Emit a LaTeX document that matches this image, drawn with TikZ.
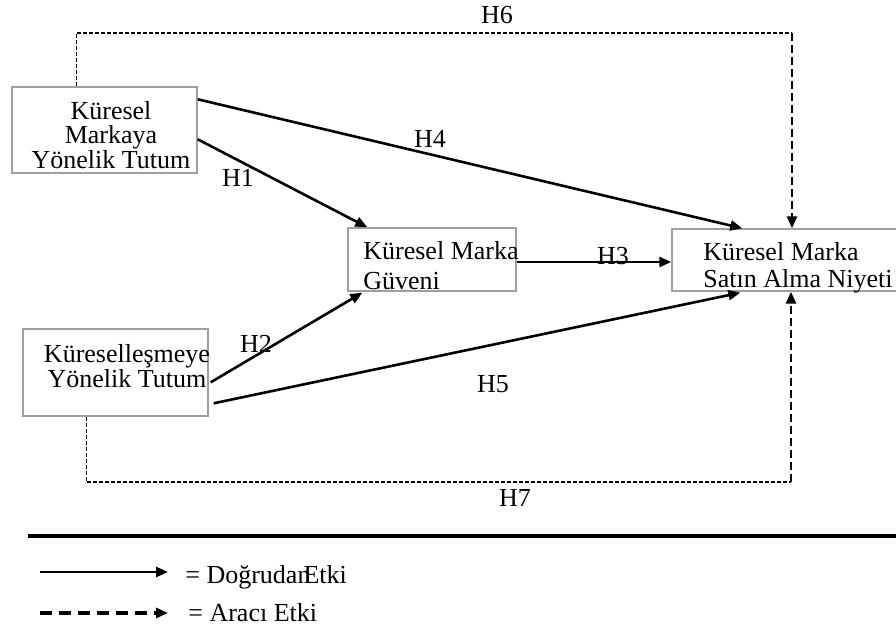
\documentclass[tikz,border=0pt]{standalone}
\usepackage{fontspec}
\setmainfont{Liberation Serif}
\usetikzlibrary{arrows.meta,calc}

\begin{document}
\begin{tikzpicture}[x=0.5pt, y=-0.5pt,
  every node/.style={font=\fontsize{13}{12.25}\selectfont, inner sep=0pt},
  kutu/.style={draw=gray!75, line width=0.7pt, rectangle},
  yol/.style={line width=1.3pt, -{Triangle[length=6pt,width=5pt]}},
  ince/.style={line width=0.7pt, dash pattern=on 2pt off 1pt},
  kesik/.style={line width=1.4pt, dash pattern=on 4pt off 2pt, -{Triangle[length=6pt,width=5pt]}},
  hip/.style={anchor=base}]
  \clip (0,0) rectangle (896,630);
  % kutular
  \node[kutu, minimum width=92.5pt, minimum height=43pt] (kmyt) at (104.5,130) {};
  \node[kutu, minimum width=84pt, minimum height=31.5pt] (kmg) at (432,259.5) {};
  \node[kutu, minimum width=119pt, minimum height=31pt] (ksan) at (791,260) {};
  \node[kutu, minimum width=92.5pt, minimum height=43.5pt] (kyt) at (115.5,372.5) {};
  \node[align=center] (kmyt-t) at (111,135) {Küresel\\Markaya\\Yönelik Tutum};
  \node[align=left, anchor=west, font=\fontsize{13}{15}\selectfont] (kmg-t) at (363,266) {Küresel Marka\\Güveni};
  \node[align=left, anchor=west, font=\fontsize{13}{13.5}\selectfont] (ksan-t) at (703,267.5) {Küresel Marka\\Satın Alma Niyeti};
  \node[align=center] (kyt-t) at (127,366) {Küreselleşmeye\\Yönelik Tutum};
  % dogrudan etkiler
  \draw[yol] ($(kmyt.north east)+(0,140-87)$) -- ($(kmg.north west)+(20,0)$);
  \draw[yol] ($(kmyt.north east)+(0,13)$) -- ($(ksan.north west)+(71,0)$);
  \draw[yol] (kmg.east |- 0,262) -- (ksan.west |- 0,262);
  \draw[yol] ($(kyt.north east)+(2,54)$) -- ($(kmg.south west)+(15,1)$);
  \draw[yol] ($(kyt.north east)+(5,75)$) -- ($(ksan.south west)+(69,1)$);
  % araci etkiler
  \coordinate (h6k) at (792,33);
  \coordinate (h7k) at (791,482);
  \draw[ince] ($(kmyt.north west)+(65,0)$) |- (h6k);
  \draw[kesik] (h6k) -- (h6k |- ksan.north);
  \draw[ince] ($(kyt.south west)+(64,0)$) |- (h7k);
  \draw[kesik] (h7k) -- (h7k |- ksan.south);
  % hipotezler
  \node[hip] (h1) at (238,187) {H1};
  \node[hip] (h2) at (256,353) {H2};
  \node[hip] (h3) at (613,265) {H3};
  \node[hip] (h4) at (430,148) {H4};
  \node[hip] (h5) at (493,393) {H5};
  \node[hip] (h6) at (497,24) {H6};
  \node[hip] (h7) at (515,507) {H7};
  % lejant
  \draw[line width=2pt] (28,536) -- (896,536);
  \coordinate (lg1a) at (40,572); \coordinate (lg1b) at (168,572);
  \coordinate (lg2a) at (40,613); \coordinate (lg2b) at (168,613);
  \draw[yol] (lg1a) -- (lg1b);
  \draw[line width=1.6pt, dash pattern=on 6pt off 3.5pt, -{Triangle[length=6pt,width=5pt]}] (lg2a) -- (lg2b);
  \node[anchor=base west] (dogrudan) at (185,584) {= Doğrudan\kern-3.5pt Etki};
  \node[anchor=base west] (araci) at (188,622) {= Aracı Etki};
\end{tikzpicture}
\end{document}
